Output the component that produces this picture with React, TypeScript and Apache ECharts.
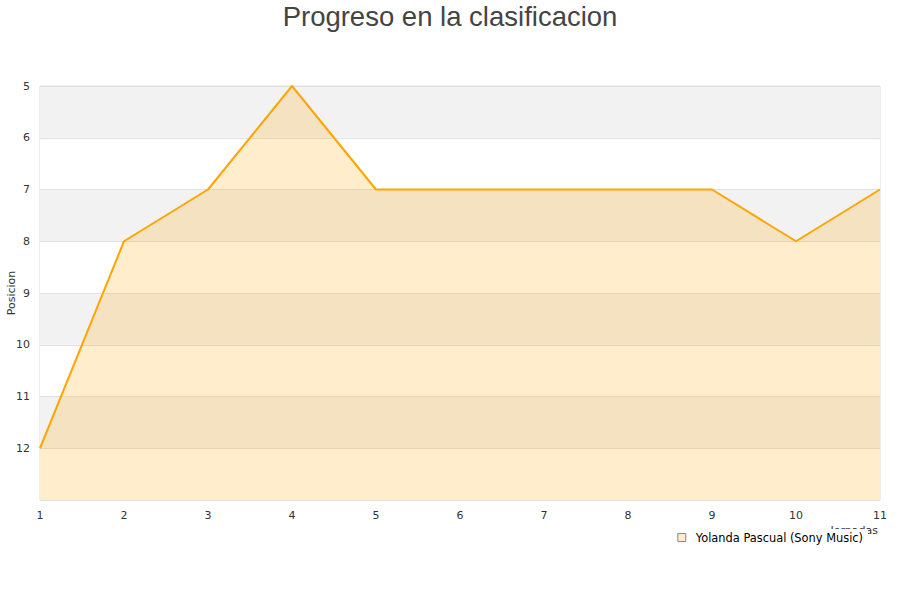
import React, { useEffect, useRef } from "react";
import * as echarts from "echarts";

const jornadas = [1, 2, 3, 4, 5, 6, 7, 8, 9, 10, 11];
const posiciones = [12, 8, 7, 5, 7, 7, 7, 7, 7, 8, 7];
const seriesName = "Yolanda Pascual (Sony Music)";
const titleText = "Progreso en la clasificacion";
const yAxisName = "Posicion";
const xAxisName = "Jornadas";

export default function App() {
  const ref = useRef<HTMLDivElement>(null);
  useEffect(() => {
    document.body.style.margin = "0";
    if (!ref.current) return;
    const chart = echarts.init(ref.current, undefined, { renderer: "svg" });
    chart.setOption({
      animation: false,
      title: {
        text: titleText,
        left: "center",
        top: -3,
        textStyle: {
          fontFamily: "Liberation Sans, Arial, sans-serif",
          fontSize: 27.5,
          fontWeight: "normal",
          color: "#444",
        },
      },
      grid: {
        left: 40,
        right: 20,
        top: 86,
        bottom: 100,
        outerBoundsMode: "none",
        containLabel: false,
        show: true,
        borderColor: "#dddddd",
        borderWidth: 1,
        backgroundColor: "transparent",
      },
      xAxis: {
        type: "value",
        min: 1,
        max: 11,
        interval: 1,
        axisLine: { show: false },
        axisTick: { show: false },
        splitLine: { show: false },
        axisLabel: {
          margin: 10,
          fontFamily: "DejaVu Sans, sans-serif",
          fontSize: 11,
          color: "#333",
        },
      },
      yAxis: {
        type: "value",
        inverse: true,
        min: 5,
        max: 13,
        interval: 1,
        axisLine: { show: false },
        axisTick: { show: false },
        axisLabel: {
          margin: 10,
          fontFamily: "DejaVu Sans, sans-serif",
          fontSize: 11,
          color: "#333",
          formatter: (v: number) => (v === 13 ? "" : String(v)),
        },
        splitLine: { show: true, lineStyle: { color: "#e0e0e0" } },
        splitArea: { show: true, areaStyle: { color: ["#f2f2f2", "#ffffff"] } },
      },
      legend: {
        right: 32,
        top: 529,
        itemWidth: 8,
        itemHeight: 8,
        itemGap: 10,
        padding: [3, 5, 3, 5],
        backgroundColor: "#ffffff",
        icon: "rect",
        z: 10,
        textStyle: {
          fontFamily: "DejaVu Sans, sans-serif",
          fontSize: 11.4,
          color: "#000",
          padding: [0, 0, 0, 5],
        },
        data: [
          {
            name: seriesName,
            itemStyle: { color: "#ffeacc", borderColor: "#888", borderWidth: 1 },
          },
        ],
      },
      graphic: [
        {
          type: "text",
          right: 22,
          top: 525,
          z: 1,
          style: {
            text: xAxisName,
            fontFamily: "DejaVu Sans, sans-serif",
            fontSize: 11,
            fill: "#333",
          },
        },
        {
          type: "text",
          x: 11,
          y: 293,
          rotation: Math.PI / 2,
          z: 1,
          style: {
            text: yAxisName,
            align: "center",
            verticalAlign: "middle",
            fontFamily: "DejaVu Sans, sans-serif",
            fontSize: 11,
            fill: "#333",
          },
        },
      ],
      series: [
        {
          name: seriesName,
          type: "line",
          data: jornadas.map((j, i) => [j, posiciones[i]]),
          showSymbol: false,
          symbol: "none",
          lineStyle: { color: "#ffa500", width: 2 },
          itemStyle: { color: "#ffa500" },
          areaStyle: { color: "#ffa500", opacity: 0.2, origin: "end" },
        },
      ],
    });
    return () => chart.dispose();
  }, []);
  return <div ref={ref} style={{ width: 900, height: 600 }} />;
}
